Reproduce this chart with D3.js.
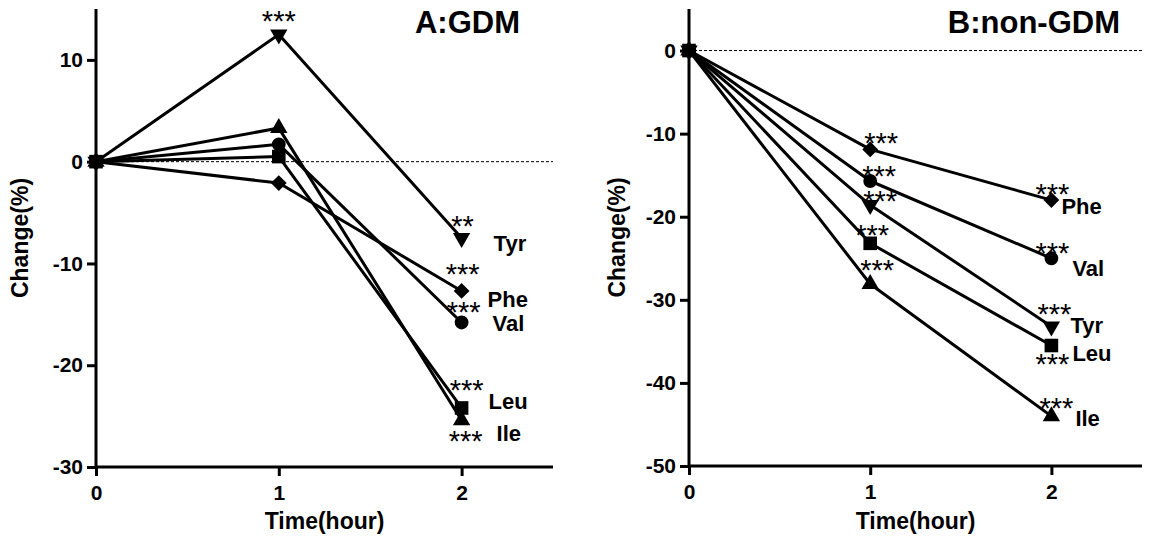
<!DOCTYPE html>
<html>
<head>
<meta charset="utf-8">
<script src="https://cdn.jsdelivr.net/npm/d3@7"></script>
<style>
  body { margin: 0; background: #fff; }
  svg { display: block; }
  text { font-family: "Liberation Sans", Arial, sans-serif; fill: #000; }
</style>
</head>
<body>
<svg id="chart" width="1157" height="543"></svg>
<script>
// time points (hour)
const times = [0, 1, 2];
const aminoAcids = ['Phe', 'Val', 'Tyr', 'Ile', 'Leu'];

// A: GDM, % change
const gdmPhe = [0, -2.1, -12.7];
const gdmVal = [0, 1.7, -15.8];
const gdmTyr = [0, 12.5, -7.5];
const gdmIle = [0, 3.3, -25.4];
const gdmLeu = [0, 0.5, -24.2];
const gdmStars1 = ['', '', '***', '', ''];
const gdmStars2 = ['***', '***', '**', '***', '***'];

// B: non-GDM, % change
const nonPhe = [0, -11.9, -18.0];
const nonVal = [0, -15.7, -25.0];
const nonTyr = [0, -18.6, -33.2];
const nonIle = [0, -28.1, -44.0];
const nonLeu = [0, -23.2, -35.5];
const nonStars1 = ['***', '***', '***', '***', '***'];
const nonStars2 = ['***', '***', '***', '***', '***'];

const yTicksA = [-30, -20, -10, 0, 10];
const yTicksB = [-50, -40, -30, -20, -10, 0];
const xTicks = [0, 1, 2];

const markers = {
  Phe: { type: d3.symbolSquare, size: 125, rotate: 45 },
  Val: { type: d3.symbolCircle, size: 150, rotate: 0 },
  Tyr: { type: d3.symbolTriangle, size: 130, rotate: 180 },
  Ile: { type: d3.symbolTriangle, size: 130, rotate: 0 },
  Leu: { type: d3.symbolSquare, size: 185, rotate: 0 }
};

const svg = d3.select('#chart');

function drawPanel(p) {
  const x = d3.scaleLinear().domain([0, 2.5]).range([p.left, p.right]);
  const y = d3.scaleLinear().domain(p.yDomain).range([p.bottom, p.top]);
  const g = svg.append('g');

  // dotted zero line
  g.append('line')
    .attr('x1', x(0)).attr('x2', x(2.5))
    .attr('y1', y(0)).attr('y2', y(0))
    .attr('stroke', '#000')
    .attr('stroke-width', 1)
    .attr('stroke-dasharray', '3,2');

  const line = d3.line().x((d, i) => x(times[i])).y(d => y(d));

  p.series.forEach((vals, k) => {
    g.append('path')
      .attr('d', line(vals))
      .attr('fill', 'none')
      .attr('stroke', '#000')
      .attr('stroke-width', 3)
      .attr('stroke-linejoin', 'round');
  });

  p.series.forEach((vals, k) => {
    const m = markers[aminoAcids[k]];
    g.selectAll(null).data(vals).join('path')
      .attr('d', d3.symbol().type(m.type).size(m.size))
      .attr('transform', (d, i) => `translate(${x(times[i])},${y(d)}) rotate(${m.rotate})`)
      .attr('fill', '#000');
  });

  // axes
  const fmt = d => String(d);
  const yAxis = d3.axisLeft(y).tickValues(p.yTicks).tickFormat(fmt)
    .tickSize(9).tickSizeOuter(0).tickPadding(4);
  const xAxis = d3.axisBottom(x).tickValues(xTicks).tickFormat(fmt)
    .tickSize(9).tickSizeOuter(0).tickPadding(9);

  const ya = g.append('g').attr('transform', `translate(${p.left},0)`).call(yAxis);
  const xa = g.append('g').attr('transform', `translate(0,${p.bottom})`).call(xAxis);
  [ya, xa].forEach(a => {
    a.selectAll('path, line').attr('stroke', '#000').attr('stroke-width', 3);
    a.selectAll('text')
      .style('font-family', '"Liberation Sans", Arial, sans-serif')
      .style('font-size', '21px')
      .style('font-weight', 'bold')
      .attr('fill', '#000');
  });
  ya.select('.domain').attr('d', `M0,${p.top}V${p.bottom}`);
  xa.select('.domain').attr('d', `M${p.left},0H${p.right}`);

  // significance stars
  const starSize = 29;
  p.series.forEach((vals, k) => {
    [[1, p.stars1], [2, p.stars2]].forEach(([t, stars]) => {
      if (!stars[k]) return;
      const off = p.starOff[t][k];
      g.append('text')
        .attr('x', x(times[t]) + off[0])
        .attr('y', y(vals[t]) + off[1] + starSize * 0.55)
        .attr('text-anchor', 'middle')
        .style('font-size', starSize + 'px')
        .text(stars[k]);
    });
    const lo = p.labelOff[k];
    g.append('text')
      .attr('x', x(2) + lo[0])
      .attr('y', y(vals[2]) + lo[1])
      .attr('dy', '0.36em')
      .style('font-size', '22px')
      .style('font-weight', 'bold')
      .text(aminoAcids[k]);
  });

  // axis titles
  g.append('text')
    .attr('transform', `translate(${p.yTitleX},${(p.top + p.bottom) / 2}) rotate(-90)`)
    .attr('text-anchor', 'middle')
    .attr('dy', '0.35em')
    .style('font-size', '23px')
    .style('font-weight', 'bold')
    .text('Change(%)');

  g.append('text')
    .attr('x', (p.left + p.right) / 2)
    .attr('y', 521)
    .attr('text-anchor', 'middle')
    .attr('dy', '0.35em')
    .style('font-size', '23px')
    .style('font-weight', 'bold')
    .text('Time(hour)');

  g.append('text')
    .attr('x', p.titleX)
    .attr('y', 33)
    .attr('text-anchor', 'end')
    .style('font-size', '31px')
    .style('font-weight', 'bold')
    .text(p.title);
}

drawPanel({
  left: 96, right: 553, top: 9, bottom: 467,
  yDomain: [-30, 15], yTicks: yTicksA,
  series: [gdmPhe, gdmVal, gdmTyr, gdmIle, gdmLeu],
  stars1: gdmStars1, stars2: gdmStars2,
  starOff: { 1: [[0, -19], [0, -19], [0, -19], [0, -19], [0, -19]],
             2: [[1, -23], [2, -16], [1, -18], [4, 15], [5, -24]] },
  labelOff: [[26, 8], [31, 1], [32, 5], [35, 13], [27, -7]],
  yTitleX: 20, titleX: 520, title: 'A:GDM'
});

drawPanel({
  left: 689, right: 1142, top: 9, bottom: 466,
  yDomain: [-50, 5], yTicks: yTicksB,
  series: [nonPhe, nonVal, nonTyr, nonIle, nonLeu],
  stars1: nonStars1, stars2: nonStars2,
  starOff: { 1: [[11, -12], [9, -11], [10, -10], [7, -20], [2, -14]],
             2: [[1, -12], [1, -11], [3, -18], [5, -14], [1, 13]] },
  labelOff: [[10, 6], [21, 10], [19, -1], [24, 2], [21, 8]],
  yTitleX: 617, titleX: 1120, title: 'B:non-GDM'
});
</script>
</body>
</html>
